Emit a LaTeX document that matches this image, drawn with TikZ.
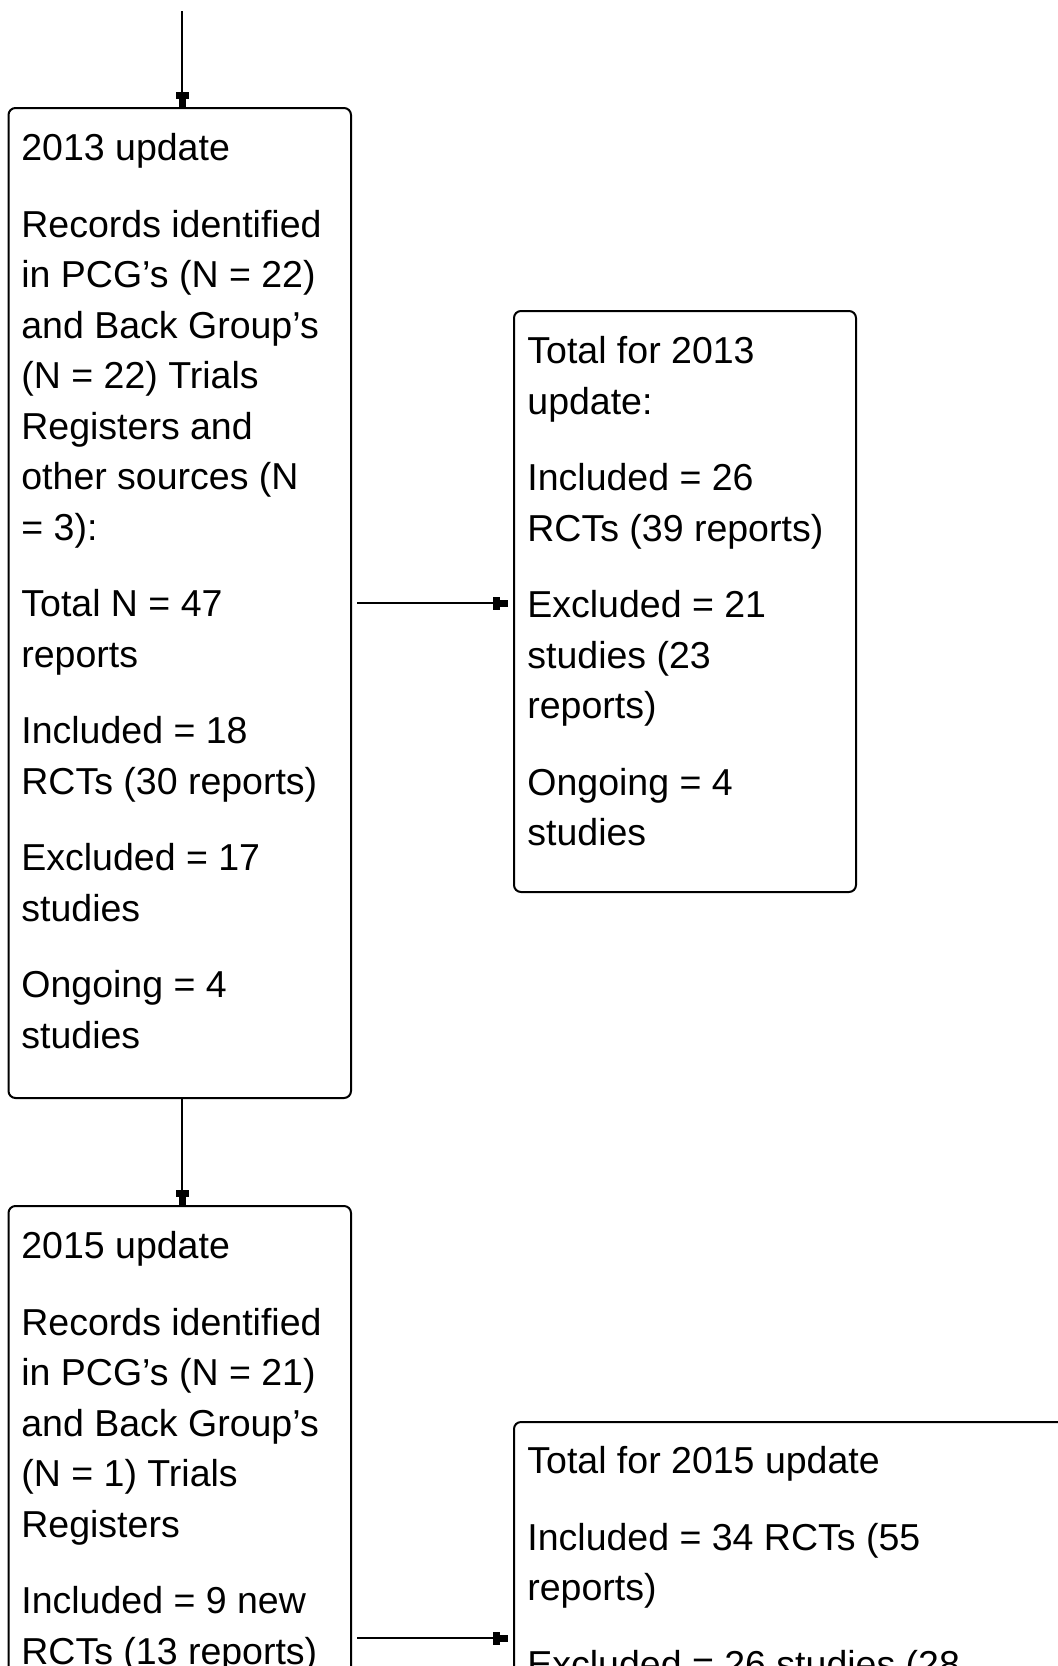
\documentclass[tikz,border=0pt]{standalone}
\usepackage{fontspec}
\setmainfont{Liberation Sans}
\usetikzlibrary{arrows.meta}
\begin{document}
\begin{tikzpicture}[x=0.5pt,y=-0.5pt,
  box/.style={draw=black, line width=1pt, rectangle, rounded corners=3.5pt, inner sep=0pt},
  txt/.style={anchor=north west, inner sep=0pt, align=left, font=\fontsize{18.75pt}{25.25pt}\selectfont},
  arr/.style={draw=black, line width=1pt, -{Rectangle[length=3.5pt,width=6.5pt,sep=0pt]Rectangle[length=4pt,width=3.5pt,sep=0pt]}}]
\useasboundingbox (0,0) rectangle (1058,1666);
\fill[white] (0,0) rectangle (1058,1666);
% boxes
\node[box, minimum width=171.25pt, minimum height=495pt] (b1) at (179.75,603) {};
\node[box, minimum width=171pt, minimum height=290.5pt] (r1) at (685,601.5) {};
\node[box, minimum width=171.25pt, minimum height=297pt] (b2) at (179.75,1503) {};
\node[box, minimum width=343pt, minimum height=189pt] (r2) at (857,1611) {};
% texts
\node[txt] (t1) at (21,133) {2013 update\\[13pt]
Records identified\\ in PCG’s (N = 22)\\ and Back Group’s\\ (N = 22) Trials\\ Registers and\\ other sources (N\\ = 3):\\[13pt]
Total N = 47\\ reports\\[13pt]
Included = 18\\ RCTs (30 reports)\\[13pt]
Excluded = 17\\ studies\\[13pt]
Ongoing = 4\\ studies};
\node[txt] (t2) at (527,336) {Total for 2013\\ update:\\[13pt]
Included = 26\\ RCTs (39 reports)\\[13pt]
Excluded = 21\\ studies (23\\ reports)\\[13pt]
Ongoing = 4\\ studies};
\node[txt] (t3) at (21,1231) {2015 update\\[13pt]
Records identified\\ in PCG’s (N = 21)\\ and Back Group’s\\ (N = 1) Trials\\ Registers\\[13pt]
Included = 9 new\\ RCTs (13 reports)};
\node[txt] (t4) at (527,1446) {Total for 2015 update\\[13pt]
Included = 34 RCTs (55\\ reports)\\[13pt]
Excluded = 26 studies (28};
% connectors
\coordinate (top) at (182,11);
\coordinate (a1) at (0,603);
\coordinate (a2) at (0,1638);
\draw[arr] (top) -- (top |- b1.north);
\draw[arr] (top |- b1.south) -- (top |- b2.north);
\draw[arr, shorten <=2.5pt, shorten >=2.5pt] (b1.east |- a1) -- (r1.west |- a1);
\draw[arr, shorten <=2.5pt, shorten >=2.5pt] (b2.east |- a2) -- (r2.west |- a2);
\end{tikzpicture}
\end{document}
